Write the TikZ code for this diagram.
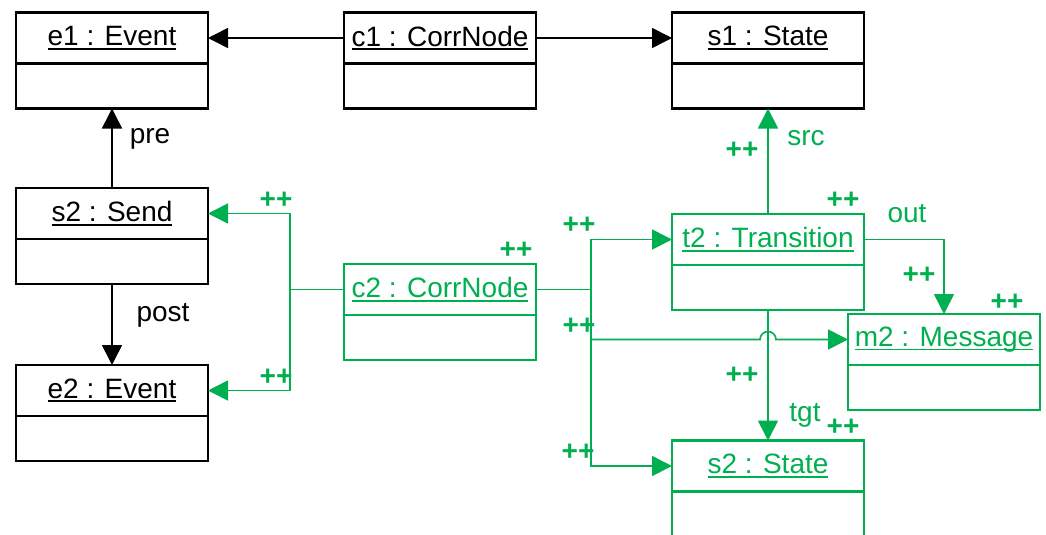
\documentclass[tikz,border=0pt]{standalone}
\usepackage{fontspec}
\setmainfont{Liberation Sans}
\usepackage{xcolor}
\usepackage{tikz}
\usetikzlibrary{arrows.meta,positioning}

\definecolor{newgreen}{RGB}{0,176,80}

% underlined object name with a thicker rule
\newsavebox{\ulbox}
\newcommand{\objname}[1]{\sbox{\ulbox}{#1}\rlap{\usebox{\ulbox}}\rule[-4pt]{\wd\ulbox}{1.8pt}}

\tikzset{
  objhead/.style={draw, line width=2.2pt, outer sep=0pt, inner sep=0pt,
    minimum width=192pt, minimum height=51pt},
  objbody/.style={draw, line width=2.2pt, outer sep=0pt,
    minimum width=192pt, minimum height=45pt, below=0pt of #1},
  created/.style={draw=newgreen, text=newgreen},
  link/.style={line width=1.6pt, -{Triangle[length=20pt,width=20pt]}},
  wire/.style={line width=1.6pt},
  plus/.style={font=\bfseries\fontsize{28}{32}\selectfont, text=newgreen, inner sep=0pt},
  role/.style={inner sep=0pt}
}

\begin{document}
\begin{tikzpicture}[x=1pt, y=-1pt, every node/.style={font=\fontsize{28}{34}\selectfont}]
  \useasboundingbox (0,0) rectangle (1046,535);

  % existing objects
  \node[objhead] (e1) at (112,38) {\objname{e1 : Event}};
  \node[objbody=e1] (e1body) {};
  \node[objhead] (c1) at (440,38) {\objname{c1 : CorrNode}};
  \node[objbody=c1] (c1body) {};
  \node[objhead] (s1) at (768,38) {\objname{s1 : State}};
  \node[objbody=s1] (s1body) {};
  \node[objhead] (snd2) at (112,213.5) {\objname{s2 : Send}};
  \node[objbody=snd2] (snd2body) {};
  \node[objhead] (e2) at (112,390.5) {\objname{e2 : Event}};
  \node[objbody=e2] (e2body) {};

  % created objects
  \node[objhead, created] (c2) at (440,289.5) {\objname{c2 : CorrNode}};
  \node[objbody=c2, created] (c2body) {};
  \node[objhead, created] (t2) at (768,239.5) {\objname{t2 : Transition}};
  \node[objbody=t2, created] (t2body) {};
  \node[objhead, created] (m2) at (944,339.5) {\objname{m2 : Message}};
  \node[objbody=m2, created] (m2body) {};
  \node[objhead, created] (s2) at (768,466) {\objname{s2 : State}};
  \node[objbody=s2, created] (s2body) {};

  % existing links
  \draw[link] (c1.west) -- (e1.east);
  \draw[link] (c1.east) -- (s1.west);
  \draw[link] (snd2.north) -- (e1body.south);
  \draw[link] (snd2body.south) -- (e2.north);
  \node[role] (prelbl) at (150,139) {pre};
  \node[role] (postlbl) at (163,315) {post};

  % created links
  \draw[wire, newgreen] (c2.west) -- ++(-54,0) coordinate (jl);
  \draw[link, newgreen] (jl) |- (snd2.east);
  \draw[link, newgreen] (jl) |- (e2.east);
  \draw[wire, newgreen] (c2.east) -- ++(55,0) coordinate (jr);
  \draw[link, newgreen] (jr) |- (t2.west);
  \draw[link, newgreen] (jr) |- (s2.west);
  \draw[link, newgreen] (jr |- m2.west) -- ([xshift=-8pt]t2body.south |- m2.west)
    arc[start angle=180, end angle=0, radius=8pt] -- (m2.west);
  \draw[link, newgreen] (t2.north) -- (s1body.south);
  \draw[link, newgreen] (t2body.south) -- (s2.north);
  \draw[link, newgreen] (t2.east) -| (m2.north);
  \node[role, text=newgreen] (srclbl) at (806,138) {src};
  \node[role, text=newgreen] (outlbl) at (907,214) {out};
  \node[role, text=newgreen] (tgtlbl) at (805,415) {tgt};

  % ++ marks
  \foreach \p [count=\i] in {(276,200), (276,377), (516,250), (579,225), (579,326),
      (578,452), (742,150), (843,200), (919,275), (1007,302), (742,375), (843,427)}
    \node[plus] (pp\i) at \p {++};
\end{tikzpicture}
\end{document}
